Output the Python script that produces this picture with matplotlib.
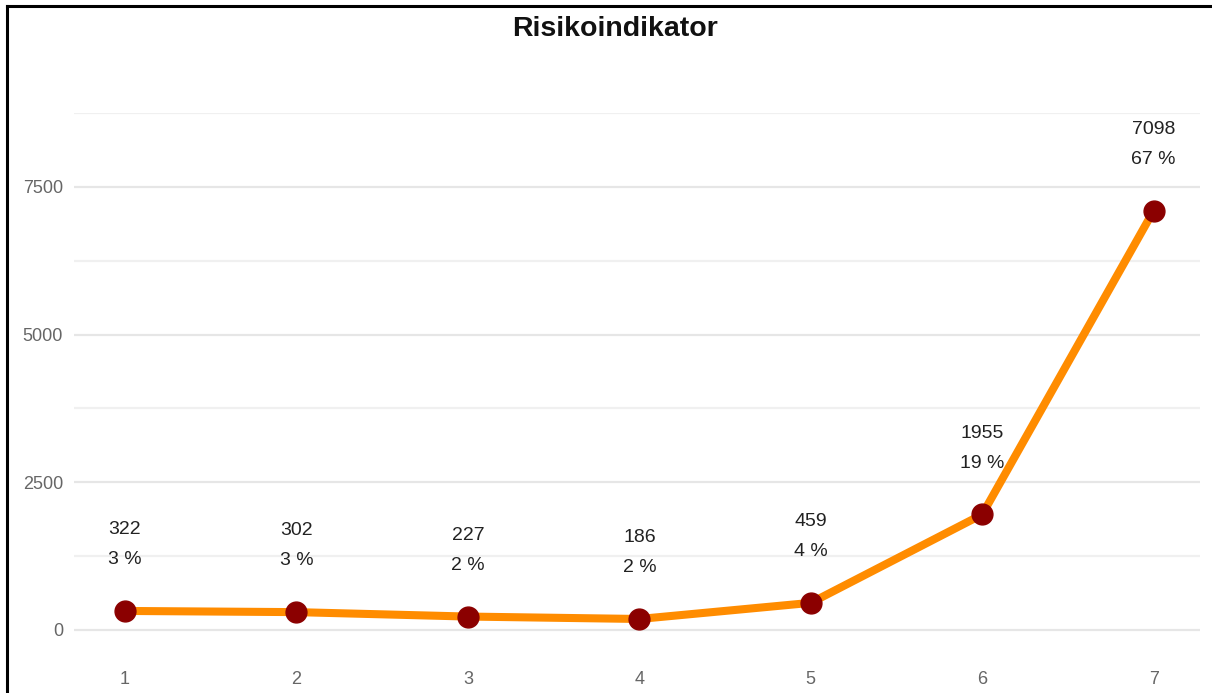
import matplotlib
matplotlib.use("Agg")
import matplotlib.pyplot as plt
from matplotlib.lines import Line2D

categories = [1, 2, 3, 4, 5, 6, 7]
counts = [322, 302, 227, 186, 459, 1955, 7098]
shares = [3, 3, 2, 2, 4, 19, 67]

plt.rcParams["font.family"] = ["Liberation Sans", "DejaVu Sans"]

fig = plt.figure(figsize=(12.12, 6.93), dpi=100)
ax = fig.add_axes([0.0611, 0.0693, 0.9290, 0.7677])

ax.plot(categories, counts, color="#ff8c00", linewidth=5.8, zorder=3,
        solid_capstyle="round")
ax.plot(categories, counts, linestyle="none", marker="o", markersize=15,
        color="#8b0000", zorder=4)

for x, c, s in zip(categories, counts, shares):
    ax.annotate(f"{c}", (x, c), xytext=(0, 58.5), textcoords="offset points",
                ha="center", va="center", fontsize=14, color="#222222")
    ax.annotate(f"{s} %", (x, c), xytext=(0, 37), textcoords="offset points",
                ha="center", va="center", fontsize=14, color="#222222")

ax.set_xlim(0.703, 7.27)
ax.set_ylim(-254, 8750)
ax.set_xticks(categories)
ax.set_yticks([0, 2500, 5000, 7500])
ax.set_yticks([1250, 3750, 6250, 8750], minor=True)
ax.grid(axis="y", which="major", color="#e6e6e6", linewidth=1.6)
ax.grid(axis="y", which="minor", color="#f0f0f0", linewidth=1.6)
ax.set_axisbelow(True)
ax.tick_params(axis="both", which="both", length=0, labelsize=13,
               labelcolor="#666666")
ax.tick_params(axis="x", pad=19)
ax.tick_params(axis="y", pad=8)
for sp in ax.spines.values():
    sp.set_visible(False)

fig.text(0.5075, 0.958, "Risikoindikator", ha="center", va="center",
         fontsize=20.5, fontweight="bold", color="#111111")

# frame lines on top and left edge
fig.add_artist(Line2D([0.0058, 1.0], [0.9913, 0.9913], color="black",
                      linewidth=2.2, transform=fig.transFigure))
fig.add_artist(Line2D([0.0058, 0.0058], [0.0, 0.9913], color="black",
                      linewidth=2.2, transform=fig.transFigure))

fig.savefig("out.png", dpi=100)
